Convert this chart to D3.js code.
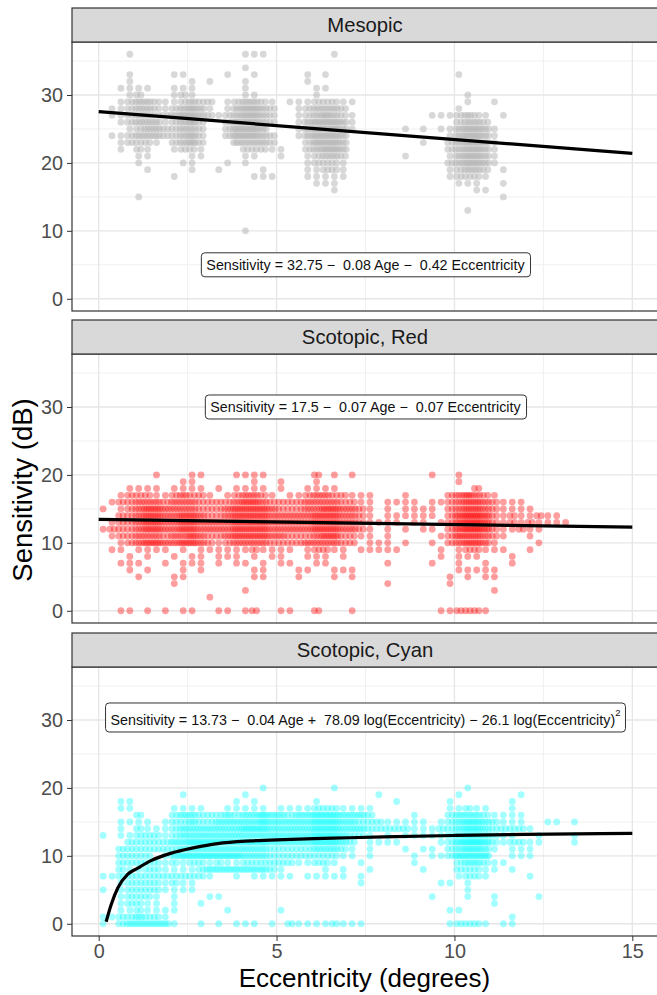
<!DOCTYPE html>
<html lang="en">
<head>
  <meta charset="utf-8">
  <title>Sensitivity by eccentricity</title>
  <script src="https://cdn.jsdelivr.net/npm/d3@7"></script>
  <style>
    body { margin: 0; background: #fff; }
    text { font-family: "Liberation Sans", Arial, sans-serif; }
  </style>
</head>
<body>
<script>
  // ---- data ----
  const panelNames = ["Mesopic", "Scotopic, Red", "Scotopic, Cyan"];
  const xTicks = [0, 5, 10, 15];
  const yTicks = [0, 10, 20, 30];

  // rows of points: [sensitivity dB, counts per 0.25 deg bin, grouped 4 bins (=1 deg) per word]
  const mesopicRows = [
    [36, "...1 .... .... .... 111. .... ..1."],
    [34, ".... .... .... .... 1..."],
    [33, "...1 .... 11.. ..1. .1.. ...1 .1.. .... .... .... 1..."],
    [32, "...1 .... ..1. 1... 1... ...1"],
    [31, "..11 11.. 111. .... 1... .... 11.."],
    [30, "...1 2... 121. .... 11.. .... 1... .... .... .... .1.."],
    [29, "..12 3321 1232 2.12 3321 .111 2221 1... .... .... .1.. 1..."],
    [28, ".112 3321 2343 1.13 4432 ..12 3332 .... .... .... 1..."],
    [27, ".112 3322 3443 2123 4432 ..12 3432 1... .... .111 2321 .1.."],
    [26, "..12 3331 2342 ..24 4432 ..13 4443 1... .... .... 2332"],
    [25, "...1 2332 2332 ..24 443. ..13 4443 1... ..1. 1.11 3443 1..."],
    [24, ".112 3332 2342 ..24 4432 ..13 4443 .... .... ...1 3443 1..."],
    [23, "..12 221. 2342 ...3 3332 ...2 4443 .... .... 1..2 3443 1..."],
    [22, "..1. 21.. 1221 .... 2221 1..2 3443 .... .... ...2 3443 1..."],
    [21, ".... 11.. ..11 .... 11.. 1..1 2332 .... ..1. ...1 3443 1..."],
    [20, ".... 1... .11. ..1. 1... ...1 2221 .... .... ...2 3443 1..."],
    [19, ".... .1.. ..1. .1.. ..1. ...1 1221 .... .... ...1 2332 .1.."],
    [18, ".... .... 1... .... .111 ...1 1111 .... .... ...1 2221"],
    [17, ".... .... .... .... .... .... 111. .... .... .... 111. .1.."],
    [16, ".... .... .... .... .... .... ..1. .... .... .... ..11"],
    [15, ".... 1... .... .... .... .... .... .... .... .... .... .1.."],
    [13, ".... .... .... .... .... .... .... .... .... .... .1.."],
    [10, ".... .... .... .... 1..."]
  ];

  const redRows = [
    [20, ".... ..1. ..11 ...1 111. .... 2.1. 1... .... .1.. 1..."],
    [19, ".... .... .11. .... .1.. 1... 1... .... .... .... 1..."],
    [18, "...1 111. 1111 .1.1 111. 1..1 111. .... .... .... ..2."],
    [17, "..12 2211 2322 1.12 3321 .112 3322 111. ..1. ...2 3432 1..."],
    [16, ".122 3332 3332 2223 4432 2223 3332 211. 1111 .112 3443 2111"],
    [15, "1.12 3443 3332 2234 4443 2223 3443 321. 1.11 11.2 3443 2111 1..."],
    [14, "..22 3443 3443 2234 4443 3333 4443 321. 1111 11.2 4554 2121 1211"],
    [13, ".122 3443 3443 3334 4443 3333 4443 3211 11.1 1.12 4554 2121 2111 1..."],
    [12, "1222 3443 3443 3334 4443 3333 4443 321. 1.1. 11.2 4554 2112 11.."],
    [11, ".122 3332 3343 2234 4443 3222 3442 211. 1... ..12 4443 21.. 1..."],
    [10, "..12 3443 3443 2123 3332 2223 3332 2.11 1.1. .1.2 3443 1... .1.."],
    [9,  ".11. 1111 .1.1 1111 1211 11.1 2211 .111 11.. ..1. 1221 11.. 1..."],
    [8,  "...1 .1.. 1.11 .111 .1.1 1..1 11.1 .... .... ..1. 111. ..1."],
    [7,  "..11 1..1 .111 .1.1 1.1. 11.. 11.. .... 1... .1.. 1..1 ..1."],
    [6,  "...1 .1.. .1.1 .... .11. ..11 ..11 1... .... .... 1111 1..."],
    [5,  ".... 1... 11.. .... .11. ..1. ..1. 1... .... ...1 .1.1 1..."],
    [4,  ".... .... 1... .... .... .... .... .... 1... ...1"],
    [3,  ".... .... .... .... 1... .... .... .... .... .... .... 1..."],
    [2,  ".... .... .... 1..."],
    [0,  "..11 .1.1 .11. .11. 12.. 11.. 2... 1... .... ..11 2221"]
  ];

  const cyanRows = [
    [20, ".... .... .... .... ..1. .... ..1. .... .... .... .1.."],
    [19, ".... .... .1.. .... 1... .... .... ...1 .... .... 1... ...1"],
    [18, "..11 .... .... ...1 .1.. .... 1... .... .1.. ...1 .... ..1."],
    [17, "..11 .... 1111 ..11 111. 1111 2221 111. .... ...1 1211 ..1."],
    [16, ".... 2... 2332 2232 3343 3233 4443 332. ...1 ...2 3332 1111"],
    [15, "..11 11.1 2232 2333 3343 3333 4443 3222 1111 1.12 3443 2111 ..11 .1.."],
    [14, "..1. 2111 2333 3333 4443 3333 4443 3322 2221 1122 3443 2222 1..."],
    [13, "1.11 2221 2333 3333 3333 3333 4443 221. 1.11 1112 3443 211. .1.. .1.."],
    [12, "...2 2222 3344 4444 4443 3333 4443 2.11 11.. ..12 4554 2122 11.. .1.."],
    [11, "..22 2222 2333 3333 3332 2222 3332 1.1. ..1. 11.2 3443 1.11 1..."],
    [10, "..22 22.1 3444 4444 3332 2222 2221 1.1. ...1 .112 4444 ..11 1..."],
    [9,  "..22 2221 2122 1211 2222 2211 221. .1.. ...1 .... 2332 11.."],
    [8,  "..21 1221 1112 3333 3332 1... .1.1 ..1. .... 1... 2221 1.1."],
    [7,  "1122 2222 2222 1..1 .111 11.1 1111 .1.. .... .... 1221 .... 1..."],
    [6,  "..12 2221 211. .... .... .... .... .1.. .... ..11 .1.."],
    [5,  "1.12 2221 111. .... .... .... .... .... .... .... .1.."],
    [4,  "..12 221. 1... 11.. .... .... .... .... .... .1.. .1.. 1... .1.."],
    [3,  "..12 211. 1..1 .... .... .... .... .... .... .... .... 1..."],
    [2,  "..11 2111 1... ..1. .... 1... .... .... .... ...1 1..."],
    [1,  "1122 3221 .... .... .... .... .... .... .... .... .... ..1."],
    [0,  "1.23 3333 1..1 .1.1 11.1 .211 1121 11.. .... ...1 2221 .11."]
  ];

  // fitted lines [eccentricity, sensitivity]
  const mesopicFit = [[0, 27.55], [15, 21.4]];
  const redFit = [[0, 13.45], [15, 12.3]];
  const cyanFit = [[0.21, 0.3], [0.35, 2.8], [0.54, 5.3], [0.82, 7.3], [1.1, 8.2], [1.47, 9.3],
                   [2.04, 10.4], [2.69, 11.2], [3.34, 11.8], [4.28, 12.2], [5.21, 12.4], [6.6, 12.6],
                   [8, 12.8], [10, 13.0], [12, 13.15], [15, 13.3]];

  const equations = [
    "Sensitivity = 32.75 \u2212  0.08 Age \u2212  0.42 Eccentricity",
    "Sensitivity = 17.5 \u2212  0.07 Age \u2212  0.07 Eccentricity",
    "Sensitivity = 13.73 \u2212  0.04 Age +  78.09 log(Eccentricity) \u2212 26.1 log(Eccentricity)"
  ];
  const labelPos = [[7.5, 5], [7.5, 30], [7.5, 30]];
  const pointColors = ["#b2b2b2", "#ff0000", "#00ffff"];
  const pointAlpha = [0.5, 0.38, 0.36];

  // ---- layout ----
  const W = 657, H = 995;
  const left = 72, right = 659;
  const stripTop = [8, 320, 633], stripH = 34, panelH = 269;
  const FONT = "Liberation Sans, Arial, sans-serif";

  const svg = d3.select("body").append("svg")
      .attr("width", W).attr("height", H);

  const x = d3.scaleLinear().domain([-0.75, 15.75]).range([left, right]);

  function rowsToPoints(rows) {
    const pts = [];
    rows.forEach(function(r) {
      const s = r[1].replace(/ /g, "");
      for (let b = 0; b < s.length; b++) {
        const n = s[b] === "." ? 0 : +s[b];
        for (let k = 0; k < n; k++) pts.push([(b + (k + 0.5) / n) * 0.25, r[0]]);
      }
    });
    return pts;
  }

  const allRows = [mesopicRows, redRows, cyanRows];
  const fits = [mesopicFit, redFit, cyanFit];

  panelNames.forEach(function(name, i) {
    const top = stripTop[i] + stripH, bottom = top + panelH;
    const y = d3.scaleLinear().domain([-1.8, 37.8]).range([bottom, top]);
    const g = svg.append("g");

    // grid
    const minorX = [2.5, 7.5, 12.5], minorY = [5, 15, 25, 35];
    g.selectAll(".mx").data(minorX).enter().append("line")
      .attr("x1", d => x(d)).attr("x2", d => x(d)).attr("y1", top).attr("y2", bottom)
      .attr("stroke", "#f0f0f0").attr("stroke-width", 1);
    g.selectAll(".my").data(minorY).enter().append("line")
      .attr("y1", d => y(d)).attr("y2", d => y(d)).attr("x1", left).attr("x2", right)
      .attr("stroke", "#f0f0f0").attr("stroke-width", 1);
    g.selectAll(".gx").data(xTicks).enter().append("line")
      .attr("x1", d => x(d)).attr("x2", d => x(d)).attr("y1", top).attr("y2", bottom)
      .attr("stroke", "#e6e6e6").attr("stroke-width", 1.3);
    g.selectAll(".gy").data(yTicks).enter().append("line")
      .attr("y1", d => y(d)).attr("y2", d => y(d)).attr("x1", left).attr("x2", right)
      .attr("stroke", "#e6e6e6").attr("stroke-width", 1.3);

    // points
    g.append("g").selectAll("circle").data(rowsToPoints(allRows[i])).enter().append("circle")
      .attr("cx", d => x(d[0])).attr("cy", d => y(d[1])).attr("r", 3.4)
      .attr("fill", pointColors[i]).attr("fill-opacity", pointAlpha[i]);

    // fitted line
    const line = d3.line().x(d => x(d[0])).y(d => y(d[1])).curve(d3.curveMonotoneX);
    g.append("path").attr("d", line(fits[i])).attr("fill", "none")
      .attr("stroke", "#000").attr("stroke-width", 3.2);

    // equation label
    const lab = g.append("g");
    const t = lab.append("text")
      .attr("x", x(labelPos[i][0])).attr("y", y(labelPos[i][1]) + 5)
      .attr("text-anchor", "middle").attr("font-size", 14.3).attr("fill", "#111")
      .style("white-space", "pre").text(equations[i]);
    if (i === 2) {
      t.append("tspan").attr("font-size", 9.5).attr("dy", -9).text("2");
    }
    const bb = t.node().getBBox();
    lab.insert("rect", "text")
      .attr("x", bb.x - 5).attr("y", bb.y - 4).attr("width", bb.width + 10).attr("height", bb.height + 8)
      .attr("rx", 3.5).attr("fill", "#fff").attr("stroke", "#333").attr("stroke-width", 1);

    // panel border
    g.append("rect").attr("x", left).attr("y", top).attr("width", right - left).attr("height", panelH)
      .attr("fill", "none").attr("stroke", "#333").attr("stroke-width", 1.2);

    // strip
    g.append("rect").attr("x", left).attr("y", stripTop[i]).attr("width", right - left).attr("height", stripH)
      .attr("fill", "#d9d9d9").attr("stroke", "#333").attr("stroke-width", 1.2);
    g.append("text").attr("x", (left + right) / 2 - 0.5).attr("y", stripTop[i] + stripH / 2 + 7)
      .attr("text-anchor", "middle").attr("font-size", 20.3).attr("fill", "#1a1a1a").text(name);

    // y axis
    const ya = g.append("g").attr("transform", "translate(" + left + ",0)")
      .call(d3.axisLeft(y).tickValues(yTicks).tickSize(5).tickPadding(4));
    ya.select(".domain").remove();
    ya.selectAll("line").attr("stroke", "#333");
    ya.selectAll("text").attr("font-size", 19.8).attr("fill", "#4d4d4d").attr("font-family", FONT);

    if (i === 2) {
      const xa = g.append("g").attr("transform", "translate(0," + bottom + ")")
        .call(d3.axisBottom(x).tickValues(xTicks).tickSize(5).tickPadding(3));
      xa.select(".domain").remove();
      xa.selectAll("line").attr("stroke", "#333");
      xa.selectAll("text").attr("font-size", 19.8).attr("fill", "#4d4d4d").attr("font-family", FONT);
    }
  });

  // axis titles
  svg.append("text").attr("x", (left + right) / 2 - 1).attr("y", 987)
    .attr("text-anchor", "middle").attr("font-size", 26).attr("fill", "#000")
    .text("Eccentricity (degrees)");
  svg.append("text").attr("transform", "translate(32,490) rotate(-90)")
    .attr("text-anchor", "middle").attr("font-size", 27.5).attr("fill", "#000")
    .text("Sensitivity (dB)");
</script>
</body>
</html>
